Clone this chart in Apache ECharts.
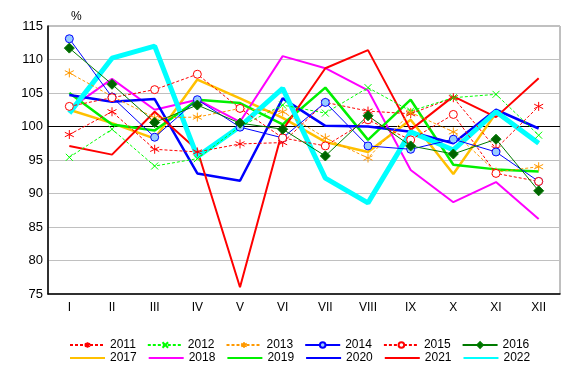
<!DOCTYPE html>
<html>
<head>
<meta charset="utf-8">
<script src="https://cdn.jsdelivr.net/npm/echarts@6/dist/echarts.min.js"></script>
<style>
  html, body { margin: 0; padding: 0; background: #fff; }
  #chart { width: 574px; height: 375px; }
</style>
</head>
<body>
<div id="chart"></div>
<script>
// data
var months = ["I", "II", "III", "IV", "V", "VI", "VII", "VIII", "IX", "X", "XI", "XII"];
var y2011 = [98.8, 102.2, 96.6, 96.2, 97.4, 97.6, 103.6, 102.3, 101.9, 104.3, 96.7, 103.0];
var y2012 = [95.4, 99.6, 94.1, 95.2, 100.0, 103.2, 102.0, 105.8, 102.3, 104.3, 104.8, 98.7];
var y2013 = [108.0, 104.5, 101.3, 101.4, 102.7, 102.2, 98.3, 95.3, 102.1, 99.2, 93.2, 94.0];
var y2014 = [113.1, 104.4, 98.4, 104.0, 99.9, 98.3, 103.6, 97.1, 96.6, 98.1, 96.2, 91.8];
var y2015 = [103.0, 104.3, 105.5, 107.8, 102.7, 98.3, 97.1, 101.0, 98.0, 101.8, 93.0, 91.8];
var y2016 = [111.7, 106.3, 100.6, 103.2, 100.5, 99.6, 95.6, 101.6, 97.1, 95.9, 98.1, 90.4];
var y2017 = [102.5, 100.5, 98.2, 107.0, 104.2, 101.3, 97.7, 96.2, 101.0, 92.9, 102.0, 97.5];
var y2018 = [102.6, 107.1, 102.5, 104.0, 100.7, 110.5, 108.7, 105.4, 93.5, 88.7, 91.7, 86.2];
var y2019 = [105.0, 100.3, 99.4, 104.0, 103.5, 100.3, 105.8, 98.0, 104.0, 94.3, 93.6, 93.3];
var y2020 = [104.7, 103.7, 104.1, 93.0, 91.9, 104.2, 100.1, 100.0, 99.2, 97.5, 102.5, 99.7];
var y2021 = [97.1, 95.8, 102.2, 96.5, 76.0, 99.5, 108.7, 111.4, 99.5, 104.5, 101.4, 107.2];
var y2022 = [102.0, 110.2, 112.0, 95.5, 100.0, 105.7, 92.3, 88.6, 99.2, 96.5, 102.2, 97.5];
var yTicks = [75, 80, 85, 90, 95, 100, 105, 110, 115];

var font = "Liberation Sans, Arial, sans-serif";
var asterisk = "path://M5,0L5,10M0.67,2.5L9.33,7.5M0.67,7.5L9.33,2.5";
var cross = "path://M0,0L10,10M0,10L10,0";

function markerLine(name, data, color, dash, symbol, size, fill) {
  return {
    name: name,
    type: "line",
    data: data,
    z: 4,
    symbol: symbol,
    symbolSize: size,
    showSymbol: true,
    lineStyle: { color: color, width: 1, type: dash ? [3, 2] : "solid" },
    itemStyle: { color: fill, borderColor: color, borderWidth: 1 },
    emphasis: { disabled: true }
  };
}

function thickLine(name, data, color, width) {
  return {
    name: name,
    type: "line",
    data: data,
    z: 2,
    symbol: "none",
    lineStyle: { color: color, width: width },
    itemStyle: { color: color },
    emphasis: { disabled: true }
  };
}

// split line colours: the 100 line is black
var splitColors = yTicks.map(function (t) {
  return t === 100 ? "#000000" : "#c0c0c0";
});

var legendBase = {
  left: 64,
  itemWidth: 35,
  itemGap: 11,
  textStyle: { fontFamily: font, fontSize: 12, color: "#000" }
};

var option = {
  animation: false,
  backgroundColor: "#fff",
  title: {
    text: "%",
    left: 66,
    top: 6,
    textStyle: { fontFamily: font, fontSize: 12, fontWeight: "normal", color: "#000" }
  },
  legend: [
    Object.assign({ top: 334, itemHeight: 7, data: ["2011", "2012", "2013", "2014", "2015", "2016"] }, legendBase),
    Object.assign({ top: 347, itemHeight: 9, data: ["2017", "2018", "2019", "2020", "2021", "2022"],
      itemStyle: { opacity: 0 } }, legendBase)
  ],
  grid: {
    left: 48,
    right: 14,
    top: 26,
    bottom: 81,
    show: true,
    borderColor: "#808080",
    borderWidth: 1
  },
  xAxis: {
    type: "category",
    data: months,
    boundaryGap: true,
    axisLine: { lineStyle: { color: "#000", width: 1.5 } },
    axisTick: { show: false },
    axisLabel: { fontFamily: font, fontSize: 12, color: "#000", margin: 8 }
  },
  yAxis: {
    type: "value",
    min: 75,
    max: 115,
    interval: 5,
    axisLine: { show: true, lineStyle: { color: "#000", width: 1.5 } },
    axisTick: { show: false },
    axisLabel: { fontFamily: font, fontSize: 13, color: "#000", margin: 5 },
    splitLine: { show: true, lineStyle: { color: splitColors, width: 1 } }
  },
  series: [
    markerLine("2011", y2011, "#ff0000", true, asterisk, 9, "#ff0000"),
    markerLine("2012", y2012, "#00ff00", true, cross, 7, "#00ff00"),
    markerLine("2013", y2013, "#ff9900", true, asterisk, 9, "#ff9900"),
    markerLine("2014", y2014, "#0000ff", false, "circle", 8, "#99ccff"),
    markerLine("2015", y2015, "#ff0000", true, "circle", 8, "#ffffff"),
    markerLine("2016", y2016, "#007a00", false, "diamond", 10, "#006400"),
    thickLine("2017", y2017, "#ffc000", 2.5),
    thickLine("2018", y2018, "#ff00ff", 2),
    thickLine("2019", y2019, "#00f000", 2.5),
    thickLine("2020", y2020, "#0000ff", 2.5),
    thickLine("2021", y2021, "#ff0000", 2),
    thickLine("2022", y2022, "#00ffff", 5)
  ]
};
option.series[11].z = 3;

var chart = echarts.init(document.getElementById("chart"));
chart.setOption(option);
</script>
</body>
</html>
